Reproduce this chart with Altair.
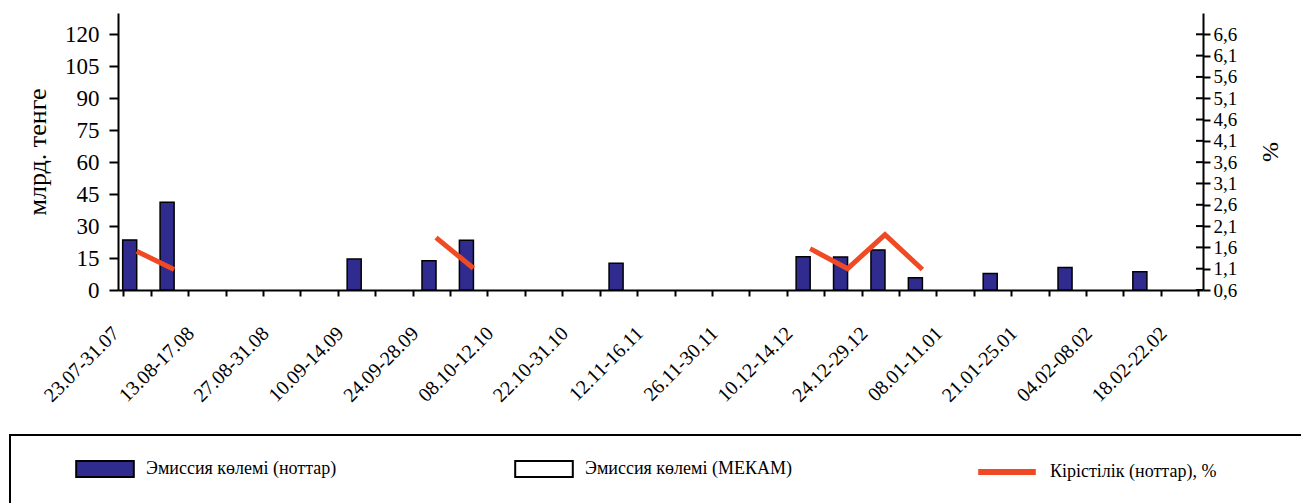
import altair as alt
import pandas as pd

# Weekly auction periods (every other one is labelled on the axis)
periods = [
    "23.07-31.07", "06.08-10.08", "13.08-17.08", "20.08-24.08", "27.08-31.08",
    "03.09-07.09", "10.09-14.09", "17.09-21.09", "24.09-28.09", "01.10-05.10",
    "08.10-12.10", "15.10-19.10", "22.10-31.10", "05.11-09.11", "12.11-16.11",
    "19.11-23.11", "26.11-30.11", "03.12-07.12", "10.12-14.12", "17.12-21.12",
    "24.12-29.12", "02.01-04.01", "08.01-11.01", "14.01-18.01", "21.01-25.01",
    "28.01-01.02", "04.02-08.02", "11.02-15.02", "18.02-22.02",
]
shown_labels = periods[::2]

# Issue volume of notes, bn tenge (None = no issue that week)
notes_volume = [
    23.5, 41.2, None, None, None, None, 14.5, None, 13.7, 23.3,
    None, None, None, 12.6, None, None, None, None, 15.6, 15.5,
    18.8, 5.8, None, 7.8, None, 10.6, None, 8.6, None,
]
# Yield of notes, %
notes_yield = [
    1.51, 1.08, None, None, None, None, None, None, 1.83, 1.11,
    None, None, None, None, None, None, None, None, 1.57, 1.10,
    1.90, 1.08, None, None, None, None, None, None, None,
]

left_ticks = [0, 15, 30, 45, 60, 75, 90, 105, 120]
right_ticks = [0.6, 1.1, 1.6, 2.1, 2.6, 3.1, 3.6, 4.1, 4.6, 5.1, 5.6, 6.1, 6.6]

NOTES = "Эмиссия көлемі (ноттар)"
MEKAM = "Эмиссия көлемі (МЕКАМ)"
YIELD = "Кірістілік (ноттар),  %"

BLUE = "#302c8f"
RED = "#ef4a24"
SERIF = "Liberation Serif"

PLOT_W, PLOT_H = 1085, 277
PAD_L, PAD_T = 118, 13

bars_df = pd.DataFrame({"period": periods, "value": notes_volume})
bars_df = bars_df.dropna().assign(series=NOTES)

# split the yield line into runs of consecutive weeks
seg, run, prev = [], 0, None
for v in notes_yield:
    if v is not None and prev is None:
        run += 1
    seg.append(run)
    prev = v
yield_df = pd.DataFrame({"period": periods, "value": notes_yield, "seg": seg})
yield_df = yield_df.dropna().assign(series=YIELD)

x_scale = alt.Scale(domain=periods, paddingInner=0.25, paddingOuter=0.125)
fill_scale = alt.Scale(domain=[NOTES, MEKAM], range=[BLUE, "white"])
stroke_scale = alt.Scale(domain=[YIELD], range=[RED])
right_scale = alt.Scale(domain=[0.6, 7.1], nice=False, zero=False)

label_list = "[" + ",".join(f"'{s}'" for s in shown_labels) + "]"

x_axis = alt.Axis(
    title=None,
    labelExpr=f"indexof({label_list}, datum.value) >= 0 ? datum.label : ''",
    labelAngle=-45, labelAlign="right", labelBaseline="middle",
    labelFont=SERIF, labelFontSize=20, labelColor="black",
    labelPadding=34, labelOffset=-21, labelOverlap=False,
    tickBand="extent", tickSize=6, tickWidth=2, tickColor="black",
    domainColor="black", domainWidth=2,
)
left_axis = alt.Axis(
    title="млрд. тенге", values=left_ticks, grid=False,
    titleFont=SERIF, titleFontSize=26, titleFontWeight="normal",
    titleColor="black", titlePadding=14,
    labelFont=SERIF, labelFontSize=23, labelColor="black", labelPadding=10,
    tickSize=9, tickWidth=2, tickColor="black",
    domainColor="black", domainWidth=2,
)
right_axis = alt.Axis(
    title="%", orient="right", values=right_ticks, grid=False,
    labelExpr="replace(format(datum.value, '.1f'), '.', ',')",
    labelOverlap=False,
    titleFont=SERIF, titleFontSize=24, titleFontWeight="normal",
    titleColor="black", titlePadding=46, titleAngle=270,
    labelFont=SERIF, labelFontSize=19, labelColor="black", labelPadding=3,
    tickSize=7, tickWidth=2, tickColor="black",
    domainColor="black", domainWidth=2,
)

wide_box = "M-3.6,-1H3.6V1H-3.6Z"
flat_line = "M-3.6,0H3.6"

# framed legend for the two volume series
bar_legend = alt.Legend(
    title=" ", titleOrient="right", titlePadding=520,
    orient="none", legendX=10 - PAD_L, legendY=435 - PAD_T,
    direction="horizontal", columns=2, columnPadding=137,
    padding=25, strokeColor="black",
    symbolType=wide_box, symbolSize=256, symbolOffset=61,
    symbolStrokeColor="black", symbolStrokeWidth=2, symbolOpacity=1,
    labelFont=SERIF, labelFontSize=18, labelColor="black", labelOffset=32,
    labelLimit=400,
)
line_legend = alt.Legend(
    title=None, orient="none", legendX=996 - PAD_L, legendY=461 - PAD_T,
    padding=0, symbolType=flat_line, symbolSize=256, symbolStrokeWidth=6,
    labelFont=SERIF, labelFontSize=18, labelColor="black", labelOffset=32,
    labelLimit=400,
)

bars = alt.Chart(bars_df).mark_bar(stroke="black", strokeWidth=1.5).encode(
    x=alt.X("period:N", scale=x_scale, axis=x_axis),
    xOffset=alt.XOffset(
        "series:N",
        scale=alt.Scale(domain=[NOTES, MEKAM], paddingInner=0, paddingOuter=0),
    ),
    y=alt.Y("value:Q", scale=alt.Scale(domain=[0, 130], nice=False), axis=left_axis),
    fill=alt.Fill("series:N", scale=fill_scale, legend=bar_legend),
)

line = alt.Chart(yield_df).mark_line(strokeWidth=5).encode(
    x=alt.X("period:N", scale=x_scale, axis=x_axis),
    y=alt.Y("value:Q", scale=right_scale, axis=right_axis),
    stroke=alt.Stroke("series:N", scale=stroke_scale, legend=line_legend),
    detail="seg:N",
)

# inner half of the cross ticks on the right axis
rticks = alt.Chart(pd.DataFrame({"v": right_ticks})).mark_rule(
    color="black", strokeWidth=2
).encode(
    y=alt.Y("v:Q", scale=right_scale, axis=right_axis),
    x=alt.value(PLOT_W - 7),
    x2=alt.value(PLOT_W),
)

chart = (
    alt.layer(bars, alt.layer(line, rticks))
    .resolve_scale(y="independent")
    .properties(
        width=PLOT_W,
        height=PLOT_H,
        autosize=alt.AutoSizeParams(type="none"),
        padding={"left": PAD_L, "top": PAD_T,
                 "right": 1301 - PAD_L - PLOT_W, "bottom": 503 - PAD_T - PLOT_H},
        background="white",
    )
    .configure_view(stroke=None)
    .configure_legend(strokeWidth=2)
)

chart.save("out.html", embed_options={"renderer": "svg", "actions": False})
